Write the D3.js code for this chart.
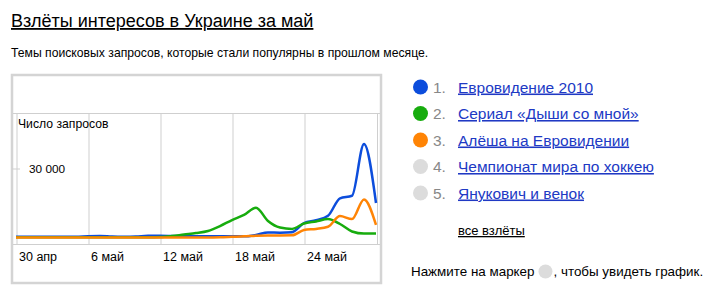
<!DOCTYPE html>
<html>
<head>
<meta charset="utf-8">
<script src="https://cdn.jsdelivr.net/npm/d3@7"></script>
<style>
body { margin: 0; background: #fff; font-family: "Liberation Sans", Arial, sans-serif; }
svg text { font-family: "Liberation Sans", Arial, sans-serif; }
</style>
</head>
<body>
<svg id="chart" width="704" height="295"></svg>
<script>
// days from 30 апр to 30 май
var startDay = new Date(2010, 3, 30);
var days = d3.range(31).map(function(i) { return d3.timeDay.offset(startDay, i); });

var seriesNames = ["Евровидение 2010", "Сериал «Дыши со мной»", "Алёша на Евровидении",
                   "Чемпионат мира по хоккею", "Янукович и венок"];
var seriesColors = ["#0c4ddc", "#17ac0e", "#ff8405", "#dcdcdc", "#dcdcdc"];

var blue = [500, 500, 500, 500, 500, 500, 800, 900, 600, 500,
            600, 1000, 1000, 900, 700, 700, 700, 700, 700, 700,
            1300, 2400, 2300, 2500, 6400, 7600, 9500, 17000, 18100, 40300, 15000];
var green = [300, 300, 300, 300, 300, 300, 300, 300, 300, 300,
             300, 300, 400, 850, 1500, 2100, 3000, 5100, 7700, 9900,
             13000, 7300, 4500, 3900, 6200, 7100, 8100, 6000, 2800, 1900, 1900];
var orange = [200, 200, 200, 200, 200, 200, 200, 200, 200, 200,
              200, 200, 200, 200, 200, 200, 200, 300, 500, 700,
              1000, 1100, 1100, 1150, 3400, 3900, 4800, 9400, 8100, 16500, 5600];

var tickDays = [new Date(2010, 3, 30), new Date(2010, 4, 6), new Date(2010, 4, 12),
                new Date(2010, 4, 18), new Date(2010, 4, 24)];
var monthNames = ["янв", "фев", "мар", "апр", "май", "июн", "июл", "авг", "сен", "окт", "ноя", "дек"];
var yTicks = [30000];

var svg = d3.select("#chart");

// title and subtitle
svg.append("text").attr("x", 11).attr("y", 27)
    .attr("font-size", 18).attr("fill", "#000")
    .attr("text-decoration", "underline")
    .text("Взлёты интересов в Украине за май");
svg.append("text").attr("x", 11).attr("y", 57)
    .attr("font-size", 12.2).attr("fill", "#000")
    .text("Темы поисковых запросов, которые стали популярны в прошлом месяце.");

// chart frame
svg.append("rect").attr("x", 12).attr("y", 75).attr("width", 369).attr("height", 208)
    .attr("fill", "none").attr("stroke", "#d4d4d4").attr("stroke-width", 2.5);

var x = d3.scaleTime().domain([days[0], days[days.length - 1]]).range([16, 376]);
var y = d3.scaleLinear().domain([0, 30000]).range([238, 168]);
var plotTop = 113, plotBottom = 244;

var grid = svg.append("g").attr("stroke", "#cfcfcf").attr("stroke-width", 1);
grid.append("line").attr("x1", 13).attr("x2", 380).attr("y1", plotTop + 0.5).attr("y2", plotTop + 0.5);
grid.append("line").attr("x1", 13).attr("x2", 380).attr("y1", plotBottom + 0.5).attr("y2", plotBottom + 0.5);
grid.append("line").attr("x1", 377.5).attr("x2", 377.5).attr("y1", plotTop).attr("y2", plotBottom);

// x axis with grid lines
var xAxis = d3.axisBottom(x)
    .tickValues(tickDays)
    .tickSize(plotBottom - plotTop)
    .tickFormat(function(d) { return d.getDate() + " " + monthNames[d.getMonth()]; });
var gx = svg.append("g").attr("transform", "translate(0.5," + plotTop + ")").call(xAxis);
gx.select(".domain").remove();
gx.selectAll(".tick line").attr("stroke", "#cfcfcf");
gx.selectAll(".tick text")
    .attr("text-anchor", "start").attr("x", 2).attr("y", plotBottom - plotTop + 8)
    .attr("font-size", 12.5).attr("fill", "#000");

// y axis
svg.append("text").attr("x", 18).attr("y", 128)
    .attr("font-size", 12.2).attr("fill", "#000").text("Число запросов");
var yAxis = d3.axisLeft(y).tickValues(yTicks).tickSize(8)
    .tickFormat(function(d) { return d3.format(",")(d).replace(",", " "); });
var gy = svg.append("g").attr("transform", "translate(20,0.5)").call(yAxis);
gy.select(".domain").remove();
gy.selectAll(".tick line").attr("stroke", "#cfcfcf");
gy.selectAll(".tick text").attr("text-anchor", "start").attr("x", 9)
    .attr("font-size", 11.8).attr("fill", "#000");

// lines
var line = d3.line()
    .x(function(d, i) { return x(days[i]); })
    .y(function(d) { return y(d); })
    .curve(d3.curveMonotoneX);

[[blue, seriesColors[0]], [green, seriesColors[1]], [orange, seriesColors[2]]].forEach(function(s) {
    svg.append("path").datum(s[0])
        .attr("d", line)
        .attr("fill", "none")
        .attr("stroke", s[1])
        .attr("stroke-width", 2.5)
        .attr("stroke-linejoin", "round");
});

// legend
var legend = svg.append("g").selectAll("g")
    .data(seriesNames)
    .enter().append("g")
    .attr("transform", function(d, i) { return "translate(0," + (87 + i * 26.5) + ")"; });
legend.append("circle").attr("cx", 420.5).attr("cy", 0).attr("r", 7.5)
    .attr("fill", function(d, i) { return seriesColors[i]; });
legend.append("text").attr("x", 433).attr("y", 5.5)
    .attr("font-size", 15.5).attr("fill", "#888")
    .text(function(d, i) { return (i + 1) + "."; });
legend.append("text").attr("x", 458).attr("y", 5.5)
    .attr("font-size", 15.5).attr("fill", "#2039c4")
    .attr("text-decoration", "underline")
    .text(function(d) { return d; });

svg.append("text").attr("x", 458).attr("y", 235)
    .attr("font-size", 13).attr("fill", "#000")
    .attr("text-decoration", "underline")
    .text("все взлёты");

var note = svg.append("text").attr("x", 411).attr("y", 276)
    .attr("font-size", 13.4).attr("fill", "#000")
    .text("Нажмите на маркер");
var noteW = note.node().getComputedTextLength();
svg.append("circle").attr("cx", 411 + noteW + 11).attr("cy", 271.5).attr("r", 7).attr("fill", "#dcdcdc");
svg.append("text").attr("x", 411 + noteW + 19).attr("y", 276)
    .attr("font-size", 13.4).attr("fill", "#000")
    .text(", чтобы увидеть график.");
</script>
</body>
</html>
